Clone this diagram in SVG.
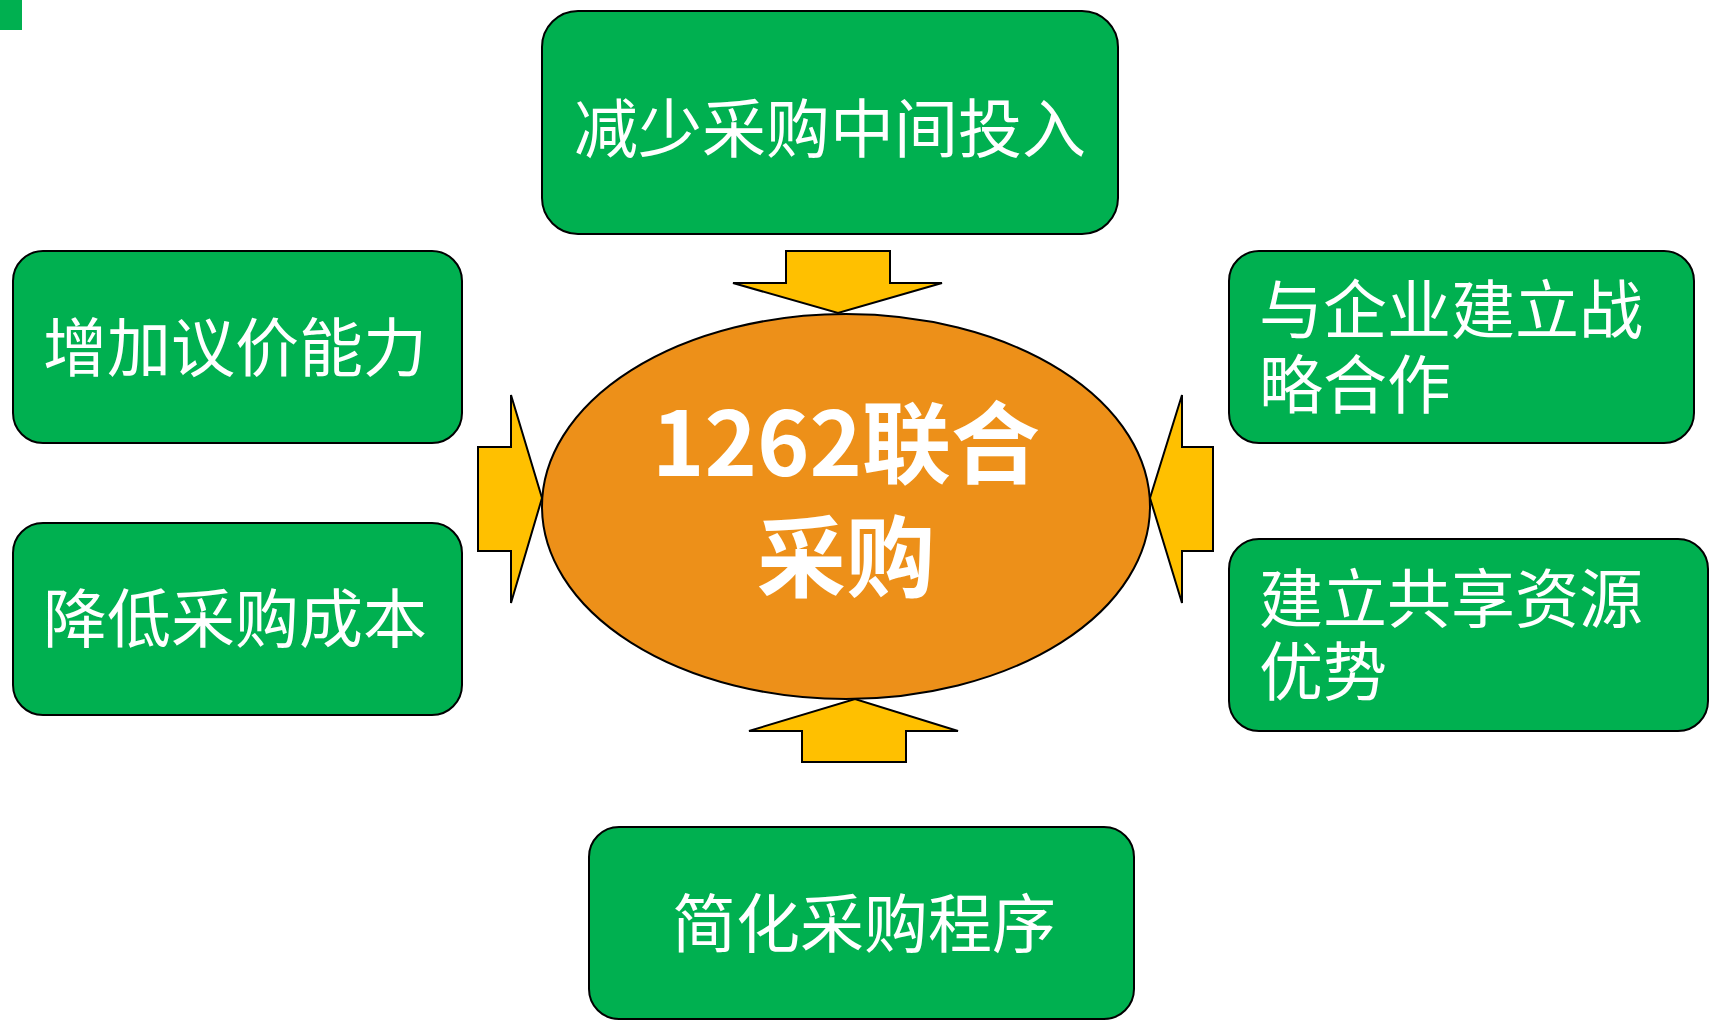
<svg xmlns="http://www.w3.org/2000/svg" width="1710" height="1023" viewBox="0 0 1710 1023">
<style>
.box{fill:#00B050;stroke:#000;stroke-width:2}
.arrow{fill:#FFC000;stroke:#000;stroke-width:2;stroke-linejoin:miter}
.t{font-family:"Noto Sans CJK SC","Noto Sans",sans-serif;font-size:64px;fill:#fff}
.c{font-family:"Noto Sans CJK SC","Noto Sans",sans-serif;font-size:89px;font-weight:bold;fill:#fff;text-anchor:middle}
</style>
<rect width="1710" height="1023" fill="#fff"/>
<rect x="0" y="0" width="22" height="30" fill="#00B050"/>
<g id="connectors">
<polygon class="arrow" points="786,251 890,251 890,283 942,283 838,313 733,283 786,283"/>
<polygon class="arrow" points="478,447 511,447 511,395 542,498 511,603 511,551 478,551"/>
<polygon class="arrow" points="1213,447 1182,447 1182,395 1150,498 1182,603 1182,551 1213,551"/>
<polygon class="arrow" points="802,762 906,762 906,731 958,731 855,699 749,731 802,731"/>
</g>
<g id="center">
<ellipse cx="846" cy="506.5" rx="304" ry="192.5" fill="#ED9019" stroke="#000" stroke-width="2"/>
<text class="c"><tspan x="846" y="476">1262联合</tspan><tspan x="846" y="590">采购</tspan></text>
</g>
<g id="n-top">
<rect class="box" x="542" y="11" width="576" height="223" rx="36"/>
<text class="t" x="830" y="152" text-anchor="middle">减少采购中间投入</text>
</g>
<g id="n-left1">
<rect class="box" x="13" y="251" width="449" height="192" rx="30"/>
<text class="t" x="235" y="371" text-anchor="middle">增加议价能力</text>
</g>
<g id="n-left2">
<rect class="box" x="13" y="523" width="449" height="192" rx="30"/>
<text class="t" x="235" y="642" text-anchor="middle">降低采购成本</text>
</g>
<g id="n-right1">
<rect class="box" x="1229" y="251" width="465" height="192" rx="30"/>
<text class="t"><tspan x="1259" y="333">与企业建立战</tspan><tspan x="1259" y="408">略合作</tspan></text>
</g>
<g id="n-right2">
<rect class="box" x="1229" y="539" width="479" height="192" rx="30"/>
<text class="t"><tspan x="1259" y="622">建立共享资源</tspan><tspan x="1259" y="695">优势</tspan></text>
</g>
<g id="n-bottom">
<rect class="box" x="589" y="827" width="545" height="192" rx="30"/>
<text class="t" x="864" y="947" text-anchor="middle">简化采购程序</text>
</g>
</svg>
